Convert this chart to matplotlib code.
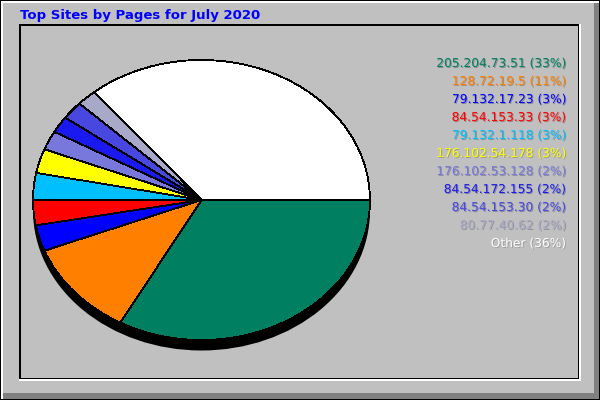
import matplotlib
matplotlib.use("Agg")
import matplotlib.pyplot as plt
import matplotlib.patheffects as pe
from matplotlib.patches import Rectangle, Ellipse

# data
hosts = ["205.204.73.51", "128.72.19.5", "79.132.17.23", "84.54.153.33",
         "79.132.1.118", "176.102.54.178", "176.102.53.128", "84.54.172.155",
         "84.54.153.30", "80.77.40.62", "Other"]
share = [33.0, 11.1, 3.0, 2.9, 3.1, 2.8, 2.2, 1.9, 2.1, 1.9, 36.0]
pct_labels = [33, 11, 3, 3, 3, 3, 2, 2, 2, 2, 36]
colors = ["#008060", "#ff8000", "#0000ff", "#ff0000", "#00bfff", "#ffff00",
          "#7878dc", "#1a1af0", "#4848e0", "#a8a8c8", "#ffffff"]
title = "Top Sites by Pages for July 2020"

W, H = 600, 400
fig = plt.figure(figsize=(6, 4), dpi=100)

# background axes in pixel coordinates
bg = fig.add_axes([0, 0, 1, 1])
bg.set_xlim(0, W)
bg.set_ylim(H, 0)
bg.axis("off")


def box(x0, y0, x1, y1, c):
    bg.add_patch(Rectangle((x0, y0), x1 - x0, y1 - y0, fc=c, ec="none",
                           antialiased=False))


box(0, 0, 600, 400, "black")
box(1, 1, 599, 399, "white")
box(3, 3, 599, 399, "#808080")
box(3, 3, 594, 393, "#c0c0c0")
# inner plot frame
box(19, 24, 581, 381, "white")
box(19, 24, 579, 379, "black")
box(21, 26, 578, 378, "#c0c0c0")

bg.text(20, 15, title, color="#0000ff", fontsize=9.5, fontweight="bold",
        ha="left", va="center")

for i, (h, p, c) in enumerate(zip(hosts, pct_labels, colors)):
    bg.text(566, 63.5 + 18 * i, f"{h} ({p}%)", color=c, fontsize=8.8,
            ha="right", va="center",
            path_effects=[pe.withSimplePatchShadow(offset=(0.7, -0.7), alpha=0.3)])

# pie axes: ellipse from x 33..370, y 60..340 pixels
pie_ax = fig.add_axes([33 / W, (H - 340) / H, 337 / W, 280 / H])
pie_ax.pie(share, colors=colors, startangle=0, counterclock=False,
           wedgeprops=dict(edgecolor="black", linewidth=0.6, antialiased=False))
pie_ax.add_patch(Ellipse((0, -0.075), 2, 2, fc="black", ec="none", zorder=0.5))
pie_ax.set_aspect("auto")
pie_ax.set_xlim(-1, 1)
pie_ax.set_ylim(-1, 1)
pie_ax.axis("off")
for art in pie_ax.patches:
    art.set_clip_on(False)

fig.savefig("out.png", dpi=100)
